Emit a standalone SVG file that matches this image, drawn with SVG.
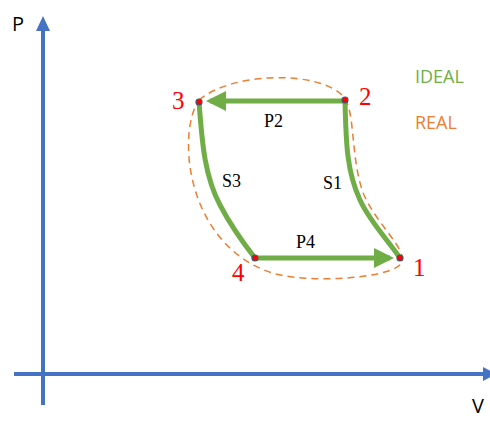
<svg xmlns="http://www.w3.org/2000/svg" width="490" height="423" viewBox="0 0 490 423">
<style>
.axis{stroke:#4472C4;stroke-width:4;fill:none}
.ideal{stroke:#70AD47;stroke-width:5;fill:none}
.real{stroke:#ED7D31;stroke-width:1.5;fill:none;stroke-dasharray:7,5}
.pt{fill:#FF0000;stroke:#44546A;stroke-width:1.2}
.num{font-family:"Liberation Serif",serif;font-size:25px;fill:#FF0000}
.lbl{font-family:"Liberation Serif",serif;font-size:18px;fill:#000}
.ax{font-family:"Open Sans","Liberation Sans",sans-serif;font-size:20px;fill:#000}
.leg{font-family:"Open Sans","Liberation Sans",sans-serif;font-size:18px}
</style>
<defs>
<marker id="ga" markerWidth="4" markerHeight="4" refX="3.2" refY="2" orient="auto" markerUnits="strokeWidth"><path d="M0,0 L4,2 L0,4 Z" fill="#70AD47"/></marker>
</defs>
<rect width="490" height="423" fill="#fff"/>
<g id="axes">
<line class="axis" x1="43" y1="405" x2="43" y2="30"/>
<path d="M43,16 L50,31 L36,31 Z" fill="#4472C4"/>
<line class="axis" x1="14" y1="374" x2="485" y2="374"/>
<path d="M496,374 L483,367 L483,381 Z" fill="#4472C4"/>
<text class="ax" x="12" y="31">P</text>
<text class="ax" x="472" y="413">V</text>
</g>
<g id="connectors">
<path class="real" d="M199,100 C232,72 318,70 343,96 C356,110 350,160 364,195 C378,226 406,248 402,262 C397,276 330,283 285,276 C240,268 205,232 193,182 C185,150 188,116 199,100 Z"/>
<line class="ideal" x1="345" y1="101" x2="210" y2="101" marker-end="url(#ga)"/>
<line class="ideal" x1="255" y1="258" x2="390" y2="258" marker-end="url(#ga)"/>
<path class="ideal" d="M345,101 C346,145 347,172 360,200 C370,222 388,240 400,258"/>
<path class="ideal" d="M199,102 C202,140 204,175 220,205 C232,228 244,244 255,258"/>
</g>
<g id="n1"><circle class="pt" cx="400" cy="258" r="3"/><text class="num" x="413" y="276">1</text></g>
<g id="n2"><circle class="pt" cx="345" cy="100" r="3"/><text class="num" x="359" y="105">2</text></g>
<g id="n3"><circle class="pt" cx="199" cy="102" r="3"/><text class="num" x="172" y="109">3</text></g>
<g id="n4"><circle class="pt" cx="255" cy="258" r="3"/><text class="num" x="232" y="281">4</text></g>
<g id="labels">
<text class="lbl" x="264" y="127">P2</text>
<text class="lbl" x="323" y="189">S1</text>
<text class="lbl" x="222" y="187">S3</text>
<text class="lbl" x="296" y="248">P4</text>
<text class="leg" x="415" y="83" fill="#70AD47">IDEAL</text>
<text class="leg" x="415" y="129" fill="#ED7D31">REAL</text>
</g>
</svg>
